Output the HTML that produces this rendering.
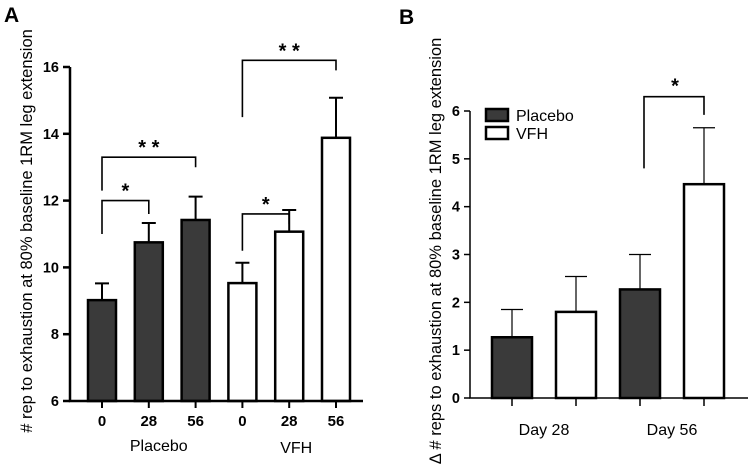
<!DOCTYPE html>
<html><head><meta charset="utf-8"><style>
html,body{margin:0;padding:0;background:#fff}
svg{display:block;font-family:"Liberation Sans",Arial,sans-serif}
</style></head><body>
<svg id="chart" width="749" height="466" viewBox="0 0 749 466">
<text x="4" y="22" font-size="21" font-weight="bold">A</text>
<text x="399" y="24" font-size="21" font-weight="bold">B</text>
<g id="pa"></g>
<g id="pb"></g>
</svg>
<script>
// Panel A data
const aCategories = ["0","28","56","0","28","56"];
const aGroups = ["Placebo","Placebo","Placebo","VFH","VFH","VFH"];
const aValues = [9.02,10.75,11.42,9.53,11.07,13.88];
const aErrors = [0.50,0.58,0.70,0.61,0.65,1.20];
const aTicks = [6,8,10,12,14,16];
const aSig = [{from:0,to:1,label:"*",top:12.0,lo:11.0,ro:11.6},{from:0,to:2,label:"* *",top:13.3,lo:12.3,ro:13.0},{from:3,to:4,label:"*",top:11.6,lo:10.5,ro:11.3},{from:3,to:5,label:"* *",top:16.2,lo:14.5,ro:15.9}];
// Panel B data
const bCategories = ["Day 28","Day 56"];
const bSeries = ["Placebo","VFH"];
const bPlacebo = [1.27,2.27];
const bVFH = [1.80,4.47];
const bPlaceboErr = [0.58,0.73];
const bVFHErr = [0.74,1.18];
const bTicks = [0,1,2,3,4,5,6];

const NS="http://www.w3.org/2000/svg";
function mk(parent,tag,attrs,text){const e=document.createElementNS(NS,tag);for(const k in attrs)e.setAttribute(k,attrs[k]);if(text!==undefined)e.textContent=text;parent.appendChild(e);return e;}

// ---------- Panel A ----------
const pa=document.getElementById('pa');
const ay=v=>401-(v-6)*(401-67)/10;
const ax=i=>102+i*46.8;
const BWA=28;
aValues.forEach((v,i)=>{
  const fill=aGroups[i]==="Placebo"?"#3a3a3a":"#fff";
  const r=mk(pa,'rect',{x:ax(i)-BWA/2,y:ay(v),width:BWA,height:ay(6)-ay(v),fill:fill,stroke:"#000","stroke-width":2.5});
  
  
  const e=mk(pa,'path',{d:`M${ax(i)},${ay(v)}V${ay(v+aErrors[i])}M${ax(i)-7},${ay(v+aErrors[i])}H${ax(i)+7}`,stroke:"#000","stroke-width":2,fill:"none"});
  
  
  const t=mk(pa,'text',{x:ax(i),y:426,"font-size":15,"font-weight":"bold","text-anchor":"middle"},aCategories[i]);
  
  
  mk(pa,'line',{x1:ax(i),x2:ax(i),y1:401,y2:408,stroke:"#000","stroke-width":2});
});
mk(pa,'path',{d:`M70,${ay(16)}V401H363`,stroke:"#000","stroke-width":2.5,fill:"none"});
aTicks.forEach(t=>{
  mk(pa,'line',{x1:63,x2:70,y1:ay(t),y2:ay(t),stroke:"#000","stroke-width":2.5});
  const l=mk(pa,'text',{x:59,y:ay(t)+5,"font-size":14.5,"font-weight":"bold","text-anchor":"end"},t);
  
  
});
aSig.forEach(s=>{
  const b=mk(pa,'path',{d:`M${ax(s.from)},${ay(s.lo)}V${ay(s.top)}H${ax(s.to)}V${ay(s.ro)}`,stroke:"#000","stroke-width":1.6,fill:"none"});
  
  
  const st=mk(pa,'text',{x:(ax(s.from)+ax(s.to))/2,y:ay(s.top)-3,"font-size":20,"font-weight":"bold","text-anchor":"middle"},s.label);
  
  
});
const g1=mk(pa,'text',{x:ax(1)+10,y:451,"font-size":16,"text-anchor":"middle"},"Placebo");


const g2=mk(pa,'text',{x:ax(4)+7,y:453,"font-size":16,"text-anchor":"middle"},"VFH");


const ya=mk(pa,'text',{transform:"translate(32,231) rotate(-90)","font-size":16.5,"text-anchor":"middle"},"# rep to exhaustion at 80% baseline 1RM leg extension");



// ---------- Panel B ----------
const pb=document.getElementById('pb');
const by=v=>398-v*(398-111)/6;
const bx=(c,s)=>512+c*128+s*64;
const BWB=40;
bCategories.forEach((c,ci)=>{
  [[bPlacebo,bPlaceboErr,"#3a3a3a"],[bVFH,bVFHErr,"#fff"]].forEach((sr,si)=>{
    const v=sr[0][ci],er=sr[1][ci],x=bx(ci,si);
    const r=mk(pb,'rect',{x:x-BWB/2,y:by(v),width:BWB,height:by(0)-by(v),fill:sr[2],stroke:"#000","stroke-width":2.5});
    
    
    const e=mk(pb,'path',{d:`M${x},${by(v)}V${by(v+er)}M${x-11},${by(v+er)}H${x+11}`,stroke:"#000","stroke-width":1.2,fill:"none"});
    
    
    mk(pb,'line',{x1:x,x2:x,y1:398,y2:406,stroke:"#000","stroke-width":1.5});
  });
  const t=mk(pb,'text',{x:bx(ci,0)+32,y:435,"font-size":16,"text-anchor":"middle"},c);
  
  
});
mk(pb,'path',{d:`M470,${by(6)}V398H748`,stroke:"#000","stroke-width":1.5,fill:"none"});
bTicks.forEach(t=>{
  mk(pb,'line',{x1:464,x2:470,y1:by(t),y2:by(t),stroke:"#000","stroke-width":1.5});
  const l=mk(pb,'text',{x:460,y:by(t)+5,"font-size":14.5,"font-weight":"bold","text-anchor":"end"},t);
  
  
});
const bb=mk(pb,'path',{d:`M${bx(1,0)+4},${by(4.8)}V${by(6.3)}H${bx(1,1)}V${by(5.92)}`,stroke:"#000","stroke-width":1.6,fill:"none"});


const bs=mk(pb,'text',{x:(bx(1,0)+bx(1,1))/2+3,y:by(6.3)-4,"font-size":20,"font-weight":"bold","text-anchor":"middle"},"*");


bSeries.forEach((s,i)=>{
  const y=109+i*18;
  const r=mk(pb,'rect',{x:486,y:y,width:22,height:12,fill:i?"#fff":"#3a3a3a",stroke:"#000","stroke-width":2.5});
  
  
  const t=mk(pb,'text',{x:516,y:y+12,"font-size":16},s);
  
  
});
const yb=mk(pb,'text',{transform:"translate(441,251) rotate(-90)","font-size":16.5,"text-anchor":"middle"},"Δ # reps to exhaustion  at 80% baseline 1RM leg extension");


</script>
</body></html>
